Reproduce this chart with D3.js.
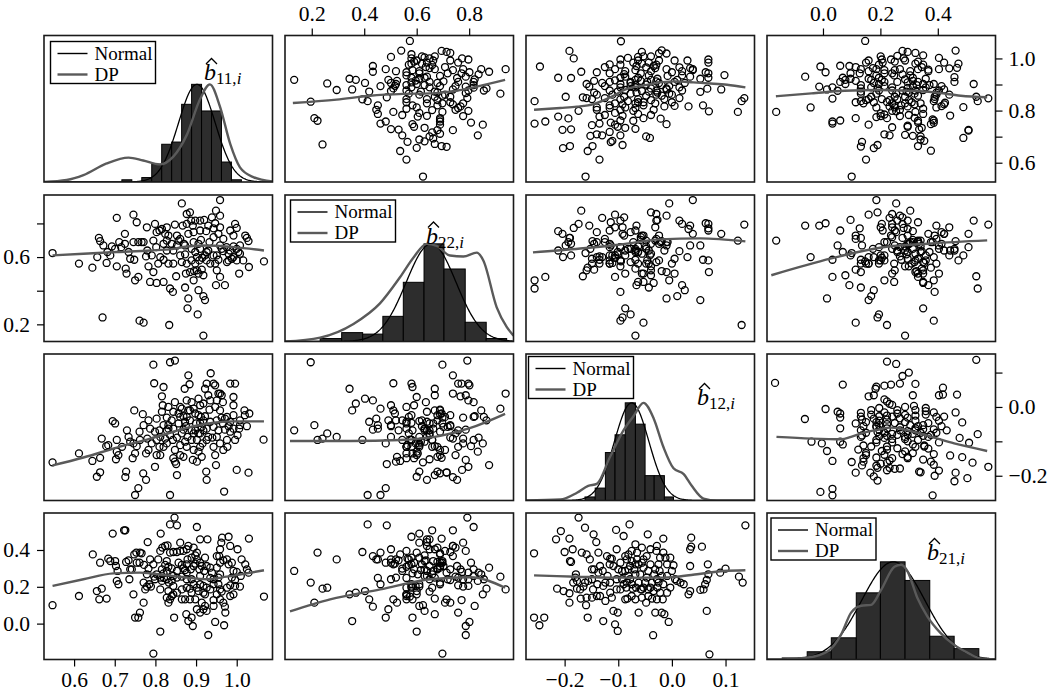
<!DOCTYPE html>
<html><head><meta charset="utf-8">
<script src="https://cdn.jsdelivr.net/npm/d3@7"></script>
<style>body{margin:0;background:#fff} svg text{font-family:'Liberation Serif','Times New Roman',serif}</style>
</head><body><svg id="chart" width="1050" height="693"></svg>
<script>
// ---------------- DATA ----------------
const variables = ["b11","b22","b12","b21"];
const subscripts = ["11","22","12","21"];
const domB11 = [0.526, 1.088];
const domB22 = [0.098, 0.969];
const domB12 = [-0.272, 0.154];
const domB21 = [-0.195, 0.601];

const ticksB11 = [0.6,0.7,0.8,0.9,1.0];
const ticksB22 = [0.2,0.4,0.6,0.8];
const ticksB12 = [-0.2,-0.1,0.0,0.1];
const ticksB21 = [0.0,0.2,0.4];
const rightTicksB11 = [0.6,0.7,0.8,0.9,1.0], rightLabelsB11 = [0.6,0.8,1.0];
const leftTicksB22 = [0.2,0.4,0.6,0.8], leftLabelsB22 = [0.2,0.6];
const rightTicksB12 = [-0.2,-0.1,0.0,0.1], rightLabelsB12 = [-0.2,0.0];
const leftTicksB21 = [0.0,0.2,0.4];

// scatter readings [first variable, second variable]
const ptsB11B22 = [[.547,.624],[.612,.561],[.645,.537],[.670,.241],[.661,.714],[.664,.695],[.657,.600],[.680,.565],[.682,.630],[.693,.663],
[.701,.649],[.705,.833],[.705,.545],[.711,.689],[.725,.738],[.727,.531],[.729,.502],[.725,.679],[.734,.630],[.738,.590],
[.746,.852],[.754,.807],[.748,.584],[.750,.462],[.758,.482],[.761,.222],[.771,.210],[.758,.689],[.766,.689],[.779,.777],
[.780,.639],[.777,.604],[.783,.545],[.787,.452],[.795,.698],[.802,.659],[.803,.446],[.810,.758],[.816,.767],[.812,.600],
[.820,.584],[.820,.452],[.824,.738],[.828,.698],[.832,.561],[.836,.413],[.843,.393],[.844,.639],[.848,.793],[.851,.486],
[.834,.196],[.853,.728],[.857,.698],[.861,.708],[.865,.919],[.867,.787],[.870,.679],[.873,.616],[.875,.502],[.873,.419],
[.881,.354],[.879,.295],[.885,.866],[.888,.817],[.892,.787],[.894,.748],[.894,.689],[.898,.630],[.889,.580],[.898,.561],
[.902,.521],[.906,.403],[.904,.259],[.910,.758],[.912,.702],[.910,.649],[.908,.580],[.914,.525],[.918,.492],[.918,.368],
[.922,.344],[.920,.821],[.925,.754],[.930,.787],[.930,.639],[.933,.689],[.918,.133],[.939,.836],[.947,.801],[.943,.771],
[.949,.876],[.959,.939],[.955,.738],[.959,.846],[.947,.561],[.951,.521],[.955,.584],[.959,.482],[.963,.649],[.967,.708],
[.971,.433],[.949,.433],[.975,.659],[.980,.620],[.984,.758],[.980,.580],[.988,.590],[.996,.797],[1.000,.773],[.992,.600],
[1.000,.649],[1.006,.502],[1.008,.620],[1.021,.728],[1.029,.695],[1.025,.714],[1.030,.541],[1.067,.574],[.877,.797],[.881,.738],
[.910,.817],[.943,.718],[.959,.669],[.967,.635],[.976,.570],[.992,.663],[1.008,.669],[1.016,.580],[.943,.610],[.889,.649],
[.877,.561],[.902,.600],[.885,.511],[.894,.462],[.926,.580],[.935,.561],[.828,.639],[.840,.679],[.803,.748],[.807,.561],
[.791,.610],[.771,.689],[.746,.689],[.716,.659],[.689,.610],[.672,.669],[.795,.511],[.844,.561],[.865,.570],[.861,.610],
[.873,.669],[.906,.679],[.922,.610],[.951,.610],[.984,.639],[1.000,.580],[.926,.630],[.853,.669],[.832,.728],[.828,.777],
[.898,.817],[.877,.856],[.799,.797],[.820,.679],[.906,.502],[.895,.517],[.915,.596],[.959,.777],[.992,.728],[1.004,.630]];

const ptsB11B12 = [[.547,-.161],[.612,-.135],[.645,-.157],[.656,-.203],[.664,-.190],[.664,-.148],[.668,-.092],[.679,-.114],[.684,-.111],[.695,-.041],
[.701,-.048],[.703,-.152],[.705,-.130],[.709,-.140],[.728,-.188],[.726,-.204],[.730,-.068],[.734,-.087],[.738,-.101],[.744,-.149],
[.748,-.010],[.750,-.135],[.754,-.114],[.761,-.072],[.758,-.236],[.750,-.256],[.769,-.021],[.770,-.193],[.777,-.135],[.777,-.212],
[.780,-.092],[.783,-.039],[.787,-.063],[.795,.123],[.797,.069],[.799,-.174],[.803,-.096],[.810,-.116],[.812,-.140],[.810,-.068],
[.816,.031],[.818,.005],[.820,.058],[.820,-.053],[.824,-.092],[.828,-.031],[.828,-.068],[.832,-.063],[.836,.130],[.836,-.256],
[.844,-.014],[.848,.135],[.844,-.149],[.848,-.159],[.851,-.166],[.848,-.125],[.853,-.089],[.853,-.198],[.861,-.029],[.865,-.005],
[.869,-.066],[.869,-.145],[.872,.053],[.873,-.101],[.877,.019],[.881,-.010],[.881,.092],[.884,.066],[.885,-.039],[.889,.014],
[.892,-.154],[.894,-.077],[.898,-.019],[.900,-.048],[.902,-.096],[.906,-.130],[.902,-.159],[.910,.005],[.912,-.029],[.916,-.106],
[.914,-.058],[.922,-.027],[.925,-.188],[.926,-.212],[.926,.068],[.930,.034],[.933,-.008],[.936,.098],[.940,-.089],[.943,.068],
[.947,.063],[.949,-.169],[.951,.019],[.955,.039],[.959,.039],[.963,.034],[.959,-.010],[.963,-.031],[.967,-.125],[.969,-.246],
[.971,-.066],[.977,-.116],[.980,-.056],[.984,.068],[.992,.005],[.992,.029],[.996,.068],[1.000,-.183],[1.002,-.082],[1.006,-.063],
[1.008,-.053],[1.019,-.010],[1.025,-.056],[1.029,-.191],[1.031,-.019],[1.066,-.095],
[.832,-.053],[.840,-.039],[.857,-.048],[.865,-.077],[.875,-.056],[.879,-.087],[.889,-.096],[.898,-.068],[.906,-.077],[.910,-.046],
[.918,-.039],[.926,-.063],[.935,-.043],[.943,-.058],[.951,-.039],[.955,-.068],[.966,-.048],[.971,-.034],[.984,-.043],[.992,-.063],
[.976,-.096],[.959,-.106],[.943,-.116],[.926,-.096],[.910,-.116],[.894,-.125],[.877,-.116],[.861,-.111],[.843,-.096],[.828,-.106],
[.812,-.087],[.799,-.072],[.791,-.106],[.762,-.096],[.771,-.053],[.803,-.034],[.816,-.014],[.832,.000],[.848,.014],[.861,.000],
[.877,-.029],[.894,-.005],[.906,.024],[.918,.010],[.922,.053],[.935,.019],[.947,.000],[.966,.014],[.976,-.029],[.992,-.024],
[1.008,-.039],[1.020,-.024],[.996,-.096],[.947,-.140],[.910,-.077],[.885,-.010],[.869,-.027],[.857,-.019],[.836,-.082],[.820,-.116],
[.803,-.140],[.783,-.125],[.746,-.106],[.718,-.116],[.705,-.096],[.889,-.068],[.918,-.068],[.930,-.087],[.951,-.087],[.906,-.024],
[.873,-.043],[.844,-.063],[.861,-.140],[.914,-.145],[.984,-.072]];

const ptsB11B21 = [[.547,.100],[.612,.150],[.646,.376],[.656,.177],[.662,.132],[.668,.190],[.664,.331],[.680,.136],[.684,.353],[.695,.489],
[.701,.340],[.703,.313],[.705,.232],[.707,.286],[.709,.214],[.723,.507],[.726,.507],[.728,.335],[.734,.344],[.736,.241],
[.738,.295],[.746,.159],[.748,.376],[.753,.386],[.754,.331],[.761,.331],[.762,.386],[.766,.382],[.772,.319],[.781,.443],
[.783,.299],[.779,.268],[.750,.033],[.758,.033],[.762,.060],[.771,.114],[.775,.186],[.779,.201],[.785,.214],[.789,.201],
[.797,.255],[.799,.241],[.803,.268],[.807,.349],[.812,.395],[.817,.413],[.813,.489],[.824,.422],[.830,.425],[.836,.539],
[.847,.576],[.853,.534],[.836,.386],[.844,.389],[.853,.389],[.861,.395],[.869,.395],[.877,.404],[.894,.413],[.902,.525],
[.828,.340],[.824,.319],[.832,.309],[.840,.300],[.816,.295],[.820,.273],[.828,.286],[.812,.250],[.816,.232],[.821,.248],
[.828,.241],[.833,.223],[.840,.232],[.844,.259],[.853,.250],[.865,.255],[.877,.277],[.887,.295],[.894,.313],[.898,.326],
[.865,.319],[.869,.300],[.873,.291],[.879,.349],[.889,.358],[.898,.371],[.902,.349],[.902,.386],[.910,.331],[.914,.313],
[.908,.295],[.920,.286],[.926,.313],[.935,.304],[.889,.241],[.894,.214],[.902,.195],[.910,.214],[.918,.205],[.926,.195],
[.877,.195],[.885,.190],[.889,.168],[.865,.186],[.865,.132],[.873,.132],[.853,.168],[.844,.159],[.836,.132],[.840,.150],
[.832,.114],[.832,.177],[.828,.141],[.846,.033],[.812,-.043],[.795,-.163],[.876,.051],[.881,.014],[.889,.033],[.892,-.013],
[.902,.078],[.910,.060],[.918,.078],[.922,.096],[.926,.069],[.914,.114],[.930,-.062],[.943,.128],[.951,.159],[.947,.009],
[.959,.132],[.967,.114],[.971,.092],[.972,.060],[.969,-.009],[.959,.186],[.963,.174],[.976,.195],[.984,.208],[.992,.159],
[1.008,.201],[.943,.241],[.955,.250],[.959,.268],[.939,.277],[.935,.248],[.951,.304],[.959,.331],[.967,.344],[.976,.349],
[.980,.322],[.988,.331],[.959,.404],[.962,.440],[.964,.467],[.980,.472],[.984,.422],[1.002,.404],[.928,.458],[.910,.458],
[.951,.367],[.957,.367],[.992,.286],[1.000,.281],[1.010,.259],[.996,.237],[1.012,.349],[1.021,.322],[1.025,.295],[1.029,.277],
[1.030,.462],[1.067,.147],[.861,.440],[.881,.422],[.918,.168],[.922,.159],[.935,.186],[.906,.177],[.885,.132],[.943,.096],
[.984,.150],[.996,.205],[.742,.295],[.771,.223],[.795,.322],[.853,.286],[.877,.241],[.787,.349],[.844,.205],[.898,.132],
[.943,.214],[.955,.214],[.988,.250],[.910,.259],[.812,.186],[.857,.331],[.922,.358],[.877,.322],[.689,.340]];

const ptsB12B21 = [[-.257,.382],[-.257,.033],[-.247,-.009],[-.238,.033],[-.214,.190],[-.216,.458],[-.207,.503],[-.202,.177],[-.200,.389],[-.191,.462],
[-.191,.165],[-.191,.114],[-.190,.340],[-.188,.335],[-.185,.404],[-.180,.250],[-.179,.268],[-.177,.232],[-.174,.576],[-.170,.136],
[-.168,.386],[-.165,.201],[-.162,.521],[-.160,.100],[-.159,.376],[-.157,.033],[-.156,.232],[-.153,.349],[-.149,.141],[-.147,.186],
[-.146,.485],[-.145,.295],[-.141,.443],[-.139,.214],[-.137,.386],[-.134,.150],[-.129,.286],[-.128,.014],[-.124,.123],[-.120,.259],
[-.116,.322],[-.115,.353],[-.112,.141],[-.112,.353],[-.109,.069],[-.106,-.004],[-.104,.509],[-.103,.404],[-.101,.060],[-.101,-.040],
[-.100,.295],[-.096,.186],[-.093,.241],[-.090,.476],[-.087,.286],[-.085,.196],[-.084,.349],[-.083,.136],[-.081,.376],[-.079,.539],
[-.078,.313],[-.075,.340],[-.073,.190],[-.070,.295],[-.068,.431],[-.067,.196],[-.065,.349],[-.062,.060],[-.062,.322],[-.059,.268],
[-.058,.186],[-.056,.413],[-.053,.304],[-.050,.223],[-.048,.114],[-.047,.367],[-.045,.485],[-.044,.186],[-.040,.322],[-.037,.136],
[-.035,-.063],[-.033,.268],[-.031,.060],[-.029,.395],[-.028,.132],[-.027,.196],[-.025,.322],[-.023,.286],[-.022,.358],[-.019,.060],
[-.017,.132],[-.016,.462],[-.014,.051],[-.012,.358],[-.009,.322],[-.006,.009],[-.003,.358],[.000,.286],[.003,.317],[.006,.241],
[.009,.232],[.016,.223],[.022,.214],[.031,.159],[.034,.177],[.034,.313],[.036,.467],[.034,.404],[.036,.418],[.053,.183],
[.056,.418],[.059,.186],[.062,.214],[.065,.237],[.065,.069],[.067,.322],[.068,.268],[.070,-.167],[.090,.277],[.100,.299],
[.125,.255],[.132,.223],[.137,.534],
[-.087,.132],[-.078,.241],[-.068,.132],[-.056,.141],[-.047,.250],[-.037,.223],[-.028,.241],[-.016,.214],[-.009,.168],[-.022,.168],
[-.034,.177],[-.044,.150],[-.056,.186],[-.068,.268],[-.081,.259],[-.090,.214],[-.103,.241],[-.115,.223],[-.128,.205],[-.137,.277],
[-.149,.295],[-.162,.223],[-.171,.186],[-.184,.223],[-.134,.313],[-.121,.367],[-.109,.313],[-.096,.331],[-.087,.367],[-.075,.395],
[-.065,.386],[-.053,.349],[-.040,.404],[-.028,.422],[-.016,.386],[-.009,.259],[-.003,.196],[-.019,.259],[-.031,.295],[-.044,.286],
[-.056,.331],[-.068,.322],[-.081,.295],[-.093,.286],[-.103,.186],[-.115,.168],[-.124,.223],[-.140,.150],[-.149,.241],[-.159,.141],
[-.177,.190],[-.084,.223],[-.075,.214],[-.062,.223],[-.053,.196],[-.040,.196],[-.025,.223],[-.075,.150]];

// smoother lines [x, y], named by x-variable then y-variable
const smB22B11 = [[.128,.829],[.295,.842],[.422,.857],[.549,.864],[.651,.866],[.702,.870],[.753,.876],[.829,.892],[.937,.918]];
const smB12B11 = [[-.257,.803],[-.208,.810],[-.177,.815],[-.146,.825],[-.115,.851],[-.084,.883],[-.053,.896],[-.022,.908],[.009,.912],[.040,.908],[.072,.904],[.103,.899],[.137,.889]];
const smB21B11 = [[-.164,.855],[-.040,.866],[.075,.876],[.191,.879],[.306,.876],[.387,.870],[.480,.857],[.572,.851]];
const smB11B22 = [[.547,.610],[.623,.620],[.705,.630],[.787,.639],[.844,.649],[.877,.663],[.926,.669],[.992,.659],[1.067,.639]];
const smB12B22 = [[-.259,.628],[-.171,.651],[-.096,.675],[-.022,.705],[.053,.711],[.137,.693]];
const smB21B22 = [[-.180,.492],[.029,.592],[.203,.657],[.377,.681],[.572,.699]];
const smB11B12 = [[.547,-.170],[.623,-.147],[.705,-.118],[.787,-.092],[.844,-.072],[.894,-.056],[.943,-.046],[.992,-.042],[1.067,-.042]];
const smB22B12 = [[.117,-.099],[.346,-.099],[.537,-.096],[.690,-.084],[.805,-.061],[.937,-.020]];
const smB21B12 = [[-.162,-.087],[-.040,-.092],[.064,-.094],[.098,-.087],[.133,-.077],[.191,-.066],[.237,-.060],[.283,-.066],[.329,-.075],[.387,-.089],[.457,-.106],[.572,-.128]];
const smB11B21 = [[.547,.205],[.623,.241],[.697,.273],[.762,.277],[.828,.262],[.877,.250],[.926,.241],[.975,.255],[1.025,.273],[1.067,.290]];
const smB22B21 = [[.117,.067],[.270,.132],[.461,.186],[.652,.241],[.805,.252],[.937,.195]];
const smB12B21 = [[-.257,.262],[-.177,.255],[-.115,.250],[-.053,.250],[-.016,.250],[.009,.255],[.047,.268],[.096,.286],[.137,.290]];

// histograms (bin edges and counts)
const histEdgesB11 = [.7175,.742,.7665,.791,.8155,.840,.8645,.889,.9135,.938,.9625,.987,1.0115];
const histCountsB11 = [1,0,2,8,17,18,35,44,32,32,9,1];
const histEdgesB22 = [.232,.314,.394,.471,.549,.628,.704,.785,.865,.943];
const histCountsB22 = [2,6,5,17,40,66,49,13,2];
const histEdgesB12 = [-.162,-.143,-.124,-.106,-.087,-.068,-.050,-.033,-.014,.003];
const histCountsB12 = [2,7,27,37,55,43,14,14,2];
const histEdgesB21 = [-.142,-.055,.029,.116,.200,.286,.372,.457,.543];
const histCountsB21 = [1,5,14,43,63,51,15,7];

// normal fit: [mean, sd]
const normalB11 = [0.902, 0.045];
const normalB22 = [0.655, 0.095];
const normalB12 = [-0.075, 0.032];
const normalB21 = [0.245, 0.11];

// DP density (scaled to max 1): [x, density]
const dpB11 = [[.526,0],[.582,.02],[.623,.07],[.680,.19],[.734,.25],[.770,.22],[.811,.18],[.844,.26],[.877,.48],[.910,.85],[.934,1.0],[.959,.77],[.984,.39],[1.008,.15],[1.041,.05],[1.088,.005]];
const dpB22 = [[.098,0],[.232,.04],[.359,.18],[.460,.39],[.537,.66],[.588,.86],[.638,1.0],[.676,.98],[.727,.88],[.778,.87],[.829,.91],[.854,.83],[.905,.35],[.943,.15],[.969,.06]];
const dpB12 = [[-.272,0],[-.208,.01],[-.177,.08],[-.156,.15],[-.140,.17],[-.115,.45],[-.090,.72],[-.072,.86],[-.053,1.0],[-.034,.84],[-.016,.55],[.003,.33],[.022,.27],[.037,.15],[.059,.02],[.084,0],[.154,0]];
const dpB21 = [[-.195,0],[-.145,0],[-.052,.02],[.017,.085],[.064,.26],[.098,.48],[.133,.55],[.168,.56],[.202,.71],[.249,.95],[.272,.97],[.295,.9],[.329,.63],[.364,.44],[.410,.27],[.457,.15],[.503,.07],[.549,.01],[.601,0]];

const legendLabels = ["Normal","DP"];

// The (b22,b12) and (b22,b21) clouds are assembled from the readings above:
// the same observation carries the same b11 value in every panel, so readings are joined on b11.
function joinOnFirst(listA, listB) {
  const a = listA.slice().sort((p, q) => p[0] - q[0]);
  const used = listB.map(() => false), out = [];
  for (const p of a) {
    let best = -1, bd = Infinity;
    listB.forEach((q, j) => { if (!used[j]) { const d = Math.abs(q[0] - p[0]); if (d < bd) { bd = d; best = j; } } });
    if (best >= 0 && bd <= 0.012) { used[best] = true; out.push([p[1], listB[best][1]]); }
  }
  return out;
}
const ptsB22B12 = joinOnFirst(ptsB11B22, ptsB11B12);
const ptsB22B21 = joinOnFirst(ptsB11B22, ptsB11B21);

// ---------------- CHART ----------------
const FONT = "'Liberation Serif','Times New Roman',serif";
const GRAY = "#5a5a5a";
const svg = d3.select("#chart");
const X0 = [44, 285, 526, 767], Y0 = [35.5, 195, 354, 513], W = 228.5, H = 146.5;

const domains = {b11: domB11, b22: domB22, b12: domB12, b21: domB21};
const pairSets = {"b11|b22": ptsB11B22, "b11|b12": ptsB11B12, "b11|b21": ptsB11B21,
                  "b22|b12": ptsB22B12, "b22|b21": ptsB22B21, "b12|b21": ptsB12B21};
const smooths = {"b22|b11": smB22B11, "b12|b11": smB12B11, "b21|b11": smB21B11,
                 "b11|b22": smB11B22, "b12|b22": smB12B22, "b21|b22": smB21B22,
                 "b11|b12": smB11B12, "b22|b12": smB22B12, "b21|b12": smB21B12,
                 "b11|b21": smB11B21, "b22|b21": smB22B21, "b12|b21": smB12B21};
const hists = {b11: [histEdgesB11, histCountsB11], b22: [histEdgesB22, histCountsB22],
               b12: [histEdgesB12, histCountsB12], b21: [histEdgesB21, histCountsB21]};
const normals = {b11: normalB11, b22: normalB22, b12: normalB12, b21: normalB21};
const dps = {b11: dpB11, b22: dpB22, b12: dpB12, b21: dpB21};
const legendOff = [[6.5,6],[5.5,5],[2.5,2.5],[4,5]];
const labelOff = [[160,44.5],[141,48.5],[171,51],[160,47]];

function getPts(xv, yv) {
  if (pairSets[xv + "|" + yv]) return pairSets[xv + "|" + yv];
  return pairSets[yv + "|" + xv].map(d => [d[1], d[0]]);
}
const xScale = (v, c) => d3.scaleLinear().domain(domains[v]).range([X0[c], X0[c] + W]);
const yScale = (v, r) => d3.scaleLinear().domain(domains[v]).range([Y0[r] + H, Y0[r]]);

const defs = svg.append("defs");
for (let r = 0; r < 4; r++) {
  for (let c = 0; c < 4; c++) {
    const x0 = X0[c], y0 = Y0[r];
    const id = "clip" + r + c;
    defs.append("clipPath").attr("id", id).append("rect")
      .attr("x", x0).attr("y", y0).attr("width", W).attr("height", H);
    const g = svg.append("g");
    const inner = g.append("g").attr("clip-path", `url(#${id})`);
    const xv = variables[c], yv = variables[r];
    const xs = xScale(xv, c);
    if (r !== c) {
      const ys = yScale(yv, r);
      inner.selectAll("circle").data(getPts(xv, yv)).join("circle")
        .attr("cx", d => xs(d[0])).attr("cy", d => ys(d[1])).attr("r", 3.5)
        .attr("fill", "none").attr("stroke", "#000").attr("stroke-width", 1.3);
      inner.append("path")
        .attr("d", d3.line().x(d => xs(d[0])).y(d => ys(d[1])).curve(d3.curveMonotoneX)(smooths[xv + "|" + yv]))
        .attr("fill", "none").attr("stroke", GRAY).attr("stroke-width", 2.4);
    } else {
      const [edges, counts] = hists[xv];
      const mx = d3.max(counts);
      const ys = d3.scaleLinear().domain([0, 1.5]).range([y0 + H, y0]);
      inner.selectAll("rect.bar").data(counts).join("rect").attr("class", "bar")
        .attr("x", (d, i) => xs(edges[i])).attr("width", (d, i) => xs(edges[i + 1]) - xs(edges[i]))
        .attr("y", d => ys(d / mx)).attr("height", d => ys(0) - ys(d / mx))
        .attr("fill", "#2d2d2d").attr("stroke", "#000").attr("stroke-width", 1);
      const [m, s] = normals[xv];
      const dom = domains[xv];
      const xsN = d3.range(0, 301).map(k => dom[0] + (dom[1] - dom[0]) * k / 300);
      inner.append("path")
        .attr("d", d3.line().x(x => xs(x)).y(x => ys(Math.exp(-0.5 * ((x - m) / s) ** 2)))(xsN))
        .attr("fill", "none").attr("stroke", "#000").attr("stroke-width", 1.3);
      inner.append("path")
        .attr("d", d3.line().x(d => xs(d[0])).y(d => ys(d[1])).curve(d3.curveMonotoneX)(dps[xv]))
        .attr("fill", "none").attr("stroke", GRAY).attr("stroke-width", 2.4);
      // legend
      const [lx, ly] = legendOff[r];
      const lg = g.append("g").attr("transform", `translate(${x0 + lx},${y0 + ly})`);
      lg.append("rect").attr("width", 105).attr("height", 42).attr("fill", "#fff")
        .attr("stroke", "#000").attr("stroke-width", 1.4);
      legendLabels.forEach((t, i) => {
        lg.append("line").attr("x1", 7).attr("x2", 37).attr("y1", 12 + i * 21).attr("y2", 12 + i * 21)
          .attr("stroke", i === 0 ? "#000" : GRAY).attr("stroke-width", i === 0 ? 1.4 : 2.4);
        lg.append("text").attr("x", 44).attr("y", 18 + i * 21).text(t)
          .style("font-family", FONT).attr("font-size", 19).attr("fill", "#000");
      });
      // label b-hat with subscript
      const [tx, ty] = labelOff[r];
      const bx = x0 + tx, by = y0 + ty;
      g.append("path").attr("d", `M${bx + 2},${by - 16} L${bx + 7.5},${by - 21.5} L${bx + 13},${by - 16}`)
        .attr("fill", "none").attr("stroke", "#000").attr("stroke-width", 1.3);
      const t = g.append("text").attr("x", bx).attr("y", by)
        .style("font-family", FONT).attr("font-size", 24).attr("fill", "#000");
      t.append("tspan").attr("font-style", "italic").text("b");
      t.append("tspan").attr("font-size", 17).attr("dy", 4).text(subscripts[r] + ",");
      t.append("tspan").attr("font-size", 17).attr("font-style", "italic").text("i");
    }
    g.append("rect").attr("x", x0).attr("y", y0).attr("width", W).attr("height", H)
      .attr("fill", "none").attr("stroke", "#1a1a1a").attr("stroke-width", 1.6);
  }
}

// ---------------- AXES ----------------
const fmt = d3.format(".1f");
const FS = 21.5;
function styleAxis(sel) {
  sel.attr("font-family", null);
  sel.select(".domain").remove();
  sel.selectAll(".tick line").attr("stroke", "#000").attr("stroke-width", 1.2);
  sel.selectAll(".tick text").style("font-family", FONT).attr("font-size", FS).attr("fill", "#000");
}
function labelOnly(list) { return d => list.some(v => Math.abs(v - d) < 1e-9) ? fmt(d) : ""; }

svg.append("g").attr("transform", `translate(0,${Y0[3] + H})`)
  .call(d3.axisBottom(xScale("b11", 0)).tickValues(ticksB11).tickFormat(fmt).tickSize(7).tickPadding(5))
  .call(styleAxis);
svg.append("g").attr("transform", `translate(0,${Y0[3] + H})`)
  .call(d3.axisBottom(xScale("b12", 2)).tickValues(ticksB12).tickFormat(fmt).tickSize(7).tickPadding(5))
  .call(styleAxis);
svg.append("g").attr("transform", `translate(0,${Y0[0]})`)
  .call(d3.axisTop(xScale("b22", 1)).tickValues(ticksB22).tickFormat(fmt).tickSize(7).tickPadding(8))
  .call(styleAxis);
svg.append("g").attr("transform", `translate(0,${Y0[0]})`)
  .call(d3.axisTop(xScale("b21", 3)).tickValues(ticksB21).tickFormat(fmt).tickSize(7).tickPadding(8))
  .call(styleAxis);
svg.append("g").attr("transform", `translate(${X0[0]},0)`)
  .call(d3.axisLeft(yScale("b22", 1)).tickValues(leftTicksB22).tickFormat(labelOnly(leftLabelsB22)).tickSize(7).tickPadding(7))
  .call(styleAxis);
svg.append("g").attr("transform", `translate(${X0[0]},0)`)
  .call(d3.axisLeft(yScale("b21", 3)).tickValues(leftTicksB21).tickFormat(fmt).tickSize(7).tickPadding(7))
  .call(styleAxis);
svg.append("g").attr("transform", `translate(${X0[3] + W},0)`)
  .call(d3.axisRight(yScale("b11", 0)).tickValues(rightTicksB11).tickFormat(labelOnly(rightLabelsB11)).tickSize(7).tickPadding(6))
  .call(styleAxis);
svg.append("g").attr("transform", `translate(${X0[3] + W},0)`)
  .call(d3.axisRight(yScale("b12", 2)).tickValues(rightTicksB12).tickFormat(labelOnly(rightLabelsB12)).tickSize(7).tickPadding(6))
  .call(styleAxis);
</script>
</body></html>
